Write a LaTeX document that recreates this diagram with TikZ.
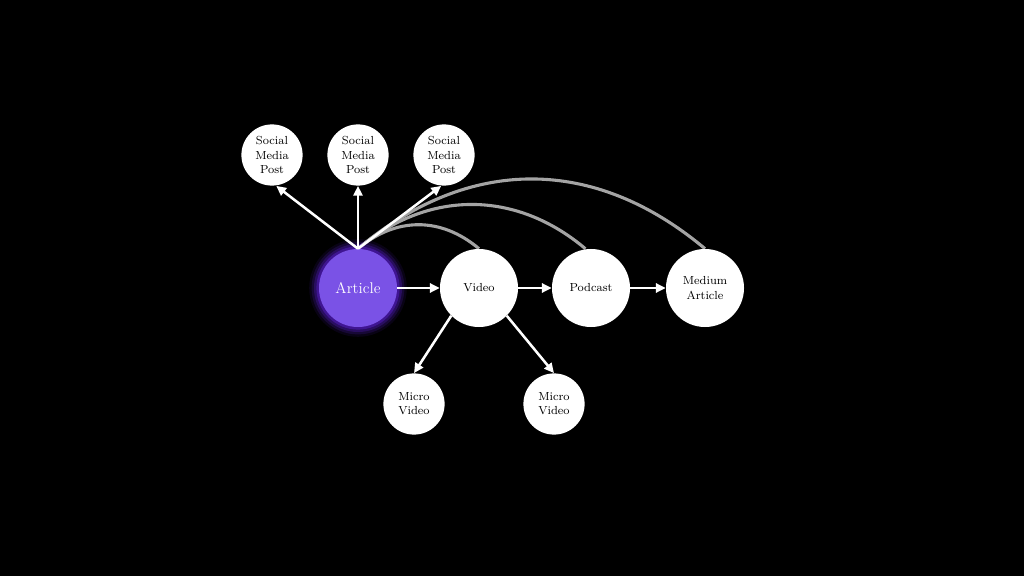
\documentclass[tikz,border=0pt]{standalone}
\usepackage{tikz}
\usetikzlibrary{arrows.meta}

\definecolor{articlepurple}{HTML}{7A52E6}
\definecolor{glowpurple}{HTML}{5A1FD0}
\definecolor{reusegray}{HTML}{A4A4A4}

\pgfdeclarelayer{back}
\pgfsetlayers{back,main}

\begin{document}
\begin{tikzpicture}[x=0.025cm, y=-0.025cm, >={Triangle[length=7pt, width=6.5pt]},
  bignode/.style={circle, fill=white, minimum size=1.95cm, inner sep=0pt, align=center, font=\fontsize{8.3}{10}\selectfont},
  smallnode/.style={circle, fill=white, minimum size=1.53cm, inner sep=0pt, align=center, font=\fontsize{8.3}{10}\selectfont},
  link/.style={->, white, line width=1.8pt},
  reuse/.style={reusegray, line width=2.2pt}]

  % Canvas
  \useasboundingbox (0,0) rectangle (1024,576);
  \begin{pgfonlayer}{back}
    \fill[black] (0,0) rectangle (1024,576);
  \end{pgfonlayer}

  % Glow behind the source node
  \foreach \r/\o in {1.22/0.10, 1.16/0.18, 1.10/0.28, 1.04/0.45}
    \fill[glowpurple, opacity=\o] (358,288) circle (\r cm);

  % Main row
  \node[bignode, fill=articlepurple, text=white, font=\fontsize{11}{13}\selectfont] (article) at (358,288) {Article};
  \node[bignode] (video) at (479,288) {Video};
  \node[bignode] (podcast) at (591,288) {Podcast};
  \node[bignode] (medium) at (705,288) {Medium\\Article};

  % Social posts
  \node[smallnode] (post1) at (272,155) {Social\\Media\\Post};
  \node[smallnode] (post2) at (358,155) {Social\\Media\\Post};
  \node[smallnode] (post3) at (444,155) {Social\\Media\\Post};

  % Micro videos
  \node[smallnode] (micro1) at (414,404) {Micro\\Video};
  \node[smallnode] (micro2) at (554,404) {Micro\\Video};

  % Reuse arcs
  \begin{pgfonlayer}{back}
    \draw[reuse] (article.north) .. controls +(38,-32) and +(-38,-32) .. (video.north);
    \draw[reuse] (article.north) .. controls +(70,-59) and +(-70,-59) .. ([xshift=-4]podcast.north);
    \draw[reuse] (article.north) .. controls +(111,-93) and +(-111,-93) .. (medium.north);
  \end{pgfonlayer}

  % Arrows up
  \draw[link] (article.north) -- ([xshift=3]post1.south);
  \draw[link] (article.north) -- (post2.south);
  \draw[link] (article.north) -- ([xshift=-2]post3.south);

  % Arrows along the row
  \draw[link] (article) -- (video);
  \draw[link] (video) -- (podcast);
  \draw[link] (podcast) -- (medium);

  % Arrows down
  \draw[link] (video.-135) -- (micro1.north);
  \draw[link] (video.-45) -- (micro2.north);
\end{tikzpicture}
\end{document}
